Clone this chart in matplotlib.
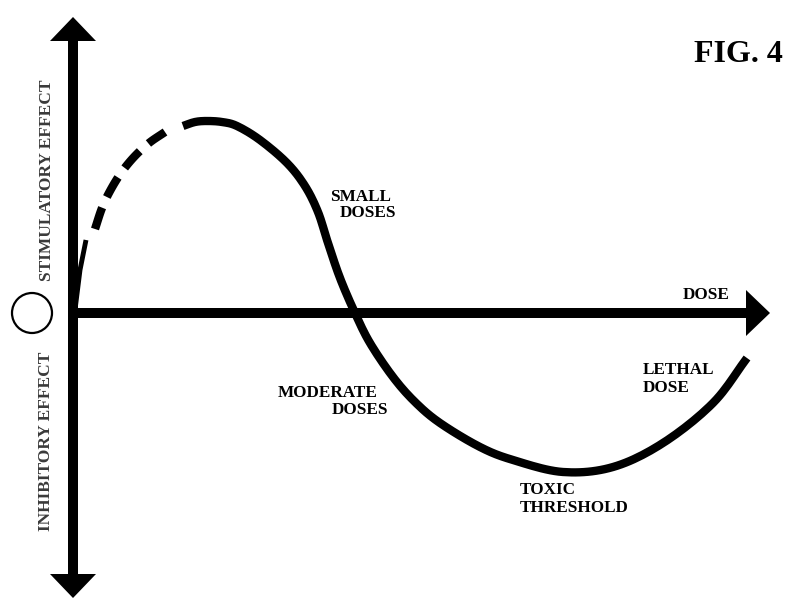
import matplotlib
matplotlib.use("Agg")
import matplotlib.pyplot as plt
from matplotlib.patches import Circle
import numpy as np

# curve (x = dose, y = effect; origin at the axes crossing)
spike_x = [2, 7, 13]
spike_y = [3, 43, 73]
dashed_x = [22, 29, 37, 48, 61, 76, 92]
dashed_y = [84, 105, 122, 140, 156, 170, 181]
solid_x = [110, 122, 134, 149, 164, 187, 214, 232, 245, 255, 267, 282,
           297, 320, 342, 367, 407, 440, 490, 540, 590, 640, 674]
solid_y = [187, 191, 192, 191, 187, 173, 150, 127, 101, 70, 35, 0,
           -30, -64, -89, -110, -134, -147, -159, -154, -130, -90, -45]

# annotations: (text, x, y)
labels = [
    ("SMALL", 257, 116),
    ("DOSES", 267, 100),
    ("MODERATE", 205, -80),
    ("DOSES", 259, -97),
    ("DOSE", 610, 18),
    ("LETHAL", 570, -57),
    ("DOSE", 570, -75),
    ("TOXIC", 447, -177),
    ("THRESHOLD", 447, -195),
]


def smooth(xs, ys, n=12):
    # catmull-rom through the traced points
    p = np.column_stack([xs, ys]).astype(float)
    p = np.vstack([2 * p[0] - p[1], p, 2 * p[-1] - p[-2]])
    out = []
    t = np.linspace(0, 1, n, endpoint=False)[:, None]
    for i in range(1, len(p) - 2):
        p0, p1, p2, p3 = p[i - 1], p[i], p[i + 1], p[i + 2]
        seg = 0.5 * ((2 * p1) + (-p0 + p2) * t + (2 * p0 - 5 * p1 + 4 * p2 - p3) * t ** 2
                     + (-p0 + 3 * p1 - 3 * p2 + p3) * t ** 3)
        out.append(seg)
    out.append(p[-2][None, :])
    out = np.vstack(out)
    return out[:, 0], out[:, 1]


fig = plt.figure(figsize=(7.87, 5.99), dpi=100)
ax = fig.add_axes([0, 0, 1, 1])
ax.set_xlim(-73, 714)
ax.set_ylim(-286, 313)
ax.axis("off")

# axes with arrow heads
ax.arrow(0, 0, 697, 0, width=10, head_width=46, head_length=24,
         length_includes_head=True, color="black", lw=0)
ax.arrow(0, -5, 0, 301, width=10, head_width=46, head_length=24,
         length_includes_head=True, color="black", lw=0)
ax.arrow(0, 5, 0, -290, width=10, head_width=46, head_length=24,
         length_includes_head=True, color="black", lw=0)

ax.add_patch(Circle((-41, 0), 20, fill=False, ec="black", lw=1.6))

# dose-response curve
ax.plot(spike_x, spike_y, color="black", lw=3.5, solid_capstyle="butt")
dx, dy = smooth(dashed_x, dashed_y)
ax.plot(dx, dy, color="black", lw=6, linestyle=(0, (2.7, 1.4)), dash_capstyle="butt")
sx, sy = smooth(solid_x, solid_y)
ax.plot(sx, sy, color="black", lw=6, solid_capstyle="butt", solid_joinstyle="round")

font = "Liberation Serif"
for txt, x, y in labels:
    ax.text(x, y, txt, ha="left", va="center", family=font, fontweight="bold",
            fontsize=12.3)

ax.text(-26, 133, "STIMULATORY EFFECT", rotation=90, ha="center", va="center",
        family=font, fontweight="bold", fontsize=12.5, color="#3a3a3a")
ax.text(-27, -128, "INHIBITORY EFFECT", rotation=90, ha="center", va="center",
        family=font, fontweight="bold", fontsize=12.5, color="#3a3a3a")

ax.text(710, 258, "FIG. 4", ha="right", va="center", family=font,
        fontweight="bold", fontsize=23)

fig.savefig("out.png", dpi=100)
